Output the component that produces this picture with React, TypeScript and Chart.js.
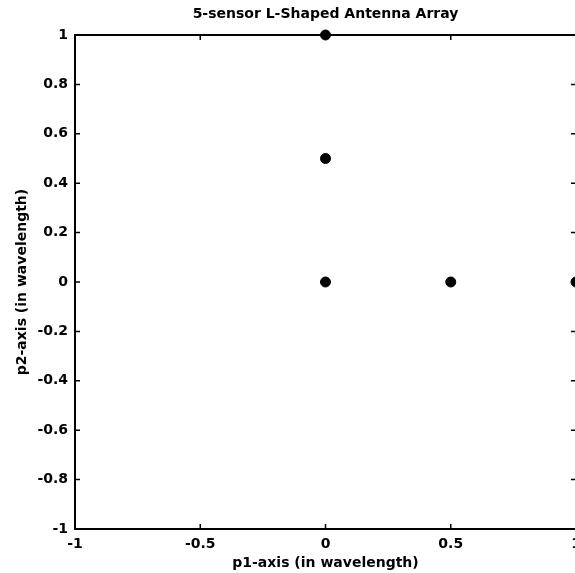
import React, { useEffect, useRef } from "react";
import { Chart, registerables } from "chart.js";

Chart.register(...registerables);

const titleText = "5-sensor L-Shaped Antenna Array";
const xAxisTitle = "p1-axis (in wavelength)";
const yAxisTitle = "p2-axis (in wavelength)";

const sensorX = [0, 0, 0, 0.5, 1];
const sensorY = [1, 0.5, 0, 0, 0];

const xTickValues = [-1, -0.5, 0, 0.5, 1];
const xTickLabels = ["-1", "-0.5", "0", "0.5", "1"];
const yTickValues = [-1, -0.8, -0.6, -0.4, -0.2, 0, 0.2, 0.4, 0.6, 0.8, 1];
const yTickLabels = ["-1", "-0.8", "-0.6", "-0.4", "-0.2", "0", "0.2", "0.4", "0.6", "0.8", "1"];

const FONT = "'DejaVu Sans', 'Liberation Sans', Arial, sans-serif";

const labelFor = (values: number[], labels: string[], v: number) => {
  const i = values.findIndex((t) => Math.abs(t - v) < 1e-6);
  return i >= 0 ? labels[i] : "";
};

const boxPlugin = {
  id: "matlabBox",
  beforeDatasetsDraw(chart: any) {
    const { ctx, chartArea, scales } = chart;
    const { left, right, top, bottom } = chartArea;
    ctx.save();
    ctx.strokeStyle = "#000";
    ctx.lineWidth = 2;
    ctx.strokeRect(left, top, right - left, bottom - top);
    ctx.lineWidth = 1.5;
    const tl = 5;
    ctx.beginPath();
    xTickValues.forEach((v) => {
      const px = scales.x.getPixelForValue(v);
      ctx.moveTo(px, bottom);
      ctx.lineTo(px, bottom - tl);
      ctx.moveTo(px, top);
      ctx.lineTo(px, top + tl);
    });
    yTickValues.forEach((v) => {
      const py = scales.y.getPixelForValue(v);
      ctx.moveTo(left, py);
      ctx.lineTo(left + tl, py);
      ctx.moveTo(right, py);
      ctx.lineTo(right - tl, py);
    });
    ctx.stroke();
    ctx.restore();
  },
};

export default function App() {
  const ref = useRef<HTMLCanvasElement | null>(null);

  useEffect(() => {
    if (!ref.current) return;
    const chart = new Chart(ref.current, {
      type: "scatter",
      data: {
        datasets: [
          {
            label: "sensors",
            data: sensorX.map((x, i) => ({ x, y: sensorY[i] })),
            backgroundColor: "#000",
            borderColor: "#000",
            pointRadius: 5,
            pointHoverRadius: 5,
            clip: false as any,
          },
        ],
      },
      options: {
        responsive: false,
        animation: false,
        layout: { padding: { left: 0, right: 24, top: 0, bottom: 0 } },
        plugins: {
          legend: { display: false },
          tooltip: { enabled: false },
          title: {
            display: true,
            text: titleText,
            fullSize: false,
            color: "#000",
            font: { family: FONT, size: 14, weight: "bold", lineHeight: 1.2 },
            padding: { top: 6, bottom: 12.2 },
          },
        },
        scales: {
          x: {
            type: "linear",
            min: -1,
            max: 1,
            afterFit: (s: any) => {
              s.height = 44;
            },
            afterBuildTicks: (s: any) => {
              s.ticks = xTickValues.map((v) => ({ value: v }));
            },
            grid: { display: false, drawTicks: false },
            border: { display: false },
            ticks: {
              color: "#000",
              padding: 7,
              maxRotation: 0,
              font: { family: FONT, size: 14, weight: "bold" },
              callback: (v: any) => labelFor(xTickValues, xTickLabels, Number(v)),
            },
            title: {
              display: true,
              text: xAxisTitle,
              color: "#000",
              font: { family: FONT, size: 14, weight: "bold", lineHeight: 1.2 },
              padding: { top: 0, bottom: 1 },
            },
          },
          y: {
            type: "linear",
            min: -1,
            max: 1,
            afterFit: (s: any) => {
              s.width = 75;
            },
            afterBuildTicks: (s: any) => {
              s.ticks = yTickValues.map((v) => ({ value: v }));
            },
            grid: { display: false, drawTicks: false },
            border: { display: false },
            ticks: {
              color: "#000",
              padding: 7,
              font: { family: FONT, size: 14, weight: "bold" },
              callback: (v: any) => labelFor(yTickValues, yTickLabels, Number(v)),
            },
            title: {
              display: true,
              text: yAxisTitle,
              color: "#000",
              font: { family: FONT, size: 14, weight: "bold", lineHeight: 1.2 },
              padding: { top: 14, bottom: 0 },
            },
          },
        },
      },
      plugins: [boxPlugin],
    });
    return () => chart.destroy();
  }, []);

  return (
    <div
      style={{
        position: "fixed",
        left: 0,
        top: 0,
        width: 575,
        height: 573,
        overflow: "hidden",
        background: "#fff",
      }}
    >
      <canvas ref={ref} width={600} height={573} style={{ width: 600, height: 573, display: "block" }} />
    </div>
  );
}
